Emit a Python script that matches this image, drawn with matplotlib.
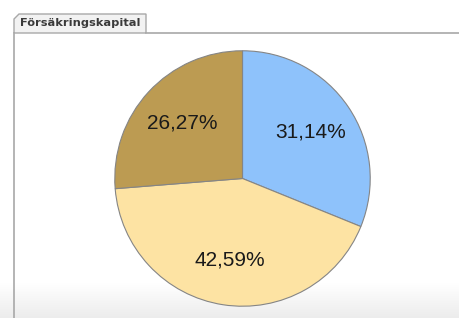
import matplotlib
matplotlib.use("Agg")
import matplotlib.pyplot as plt
import numpy as np
from matplotlib.patches import Polygon
from matplotlib.lines import Line2D

title = "Försäkringskapital"
values = [31.14, 42.59, 26.27]
labels = ["31,14%", "42,59%", "26,27%"]
colors = ["#8ec2fb", "#fde3a3", "#bc9b52"]

W, H = 460, 318
fig = plt.figure(figsize=(W / 100, H / 100), dpi=100)
fig.patch.set_facecolor("white")

def fx(x):
    return x / W

def fy(y):
    return 1 - y / H

# bottom gradient
gax = fig.add_axes([0, 0, 1, fy(283)], zorder=0)
grad = np.linspace(0, 1, 50).reshape(-1, 1)
gax.imshow(grad, aspect="auto", cmap=matplotlib.colors.LinearSegmentedColormap.from_list(
    "g", ["#ffffff", "#ececec"]), extent=[0, 1, 0, 1], origin="upper")
gax.axis("off")

# frame lines
fig.add_artist(Line2D([fx(14), fx(14)], [fy(33), 0], color="#a8a8a8", lw=1.2, transform=fig.transFigure))
fig.add_artist(Line2D([fx(146), 1], [fy(33), fy(33)], color="#a8a8a8", lw=1.2, transform=fig.transFigure))

# tab
tab = Polygon([(fx(14), fy(33)), (fx(14), fy(19)), (fx(19), fy(14)), (fx(146), fy(14)), (fx(146), fy(33))],
              closed=True, facecolor="#f2f2f2", edgecolor="#a8a8a8", lw=1.0, transform=fig.transFigure)
fig.add_artist(tab)
fig.text(fx(80), fy(23.5), title, ha="center", va="center", fontsize=8.2, fontweight="bold",
         color="#3a3a3a", family="DejaVu Sans")

# pie
cx, cy, r = 242.5, 178.5, 129
ax = fig.add_axes([fx(cx - r), fy(cy + r), 2 * r / W, 2 * r / H], zorder=2)
ax.pie(values, colors=colors, startangle=90, counterclock=False, labels=labels,
       labeldistance=0.645, radius=1,
       wedgeprops=dict(edgecolor="#858585", linewidth=0.8),
       textprops=dict(fontsize=15, color="#1a1a1a", family="Liberation Sans", ha="center", va="center"))
for t in ax.texts:
    t.set_ha("center")
    t.set_va("center")
ax.set_xlim(-1.01, 1.01)
ax.set_ylim(-1.01, 1.01)
ax.set_aspect("equal")
ax.axis("off")

fig.savefig("out.png", dpi=100)
